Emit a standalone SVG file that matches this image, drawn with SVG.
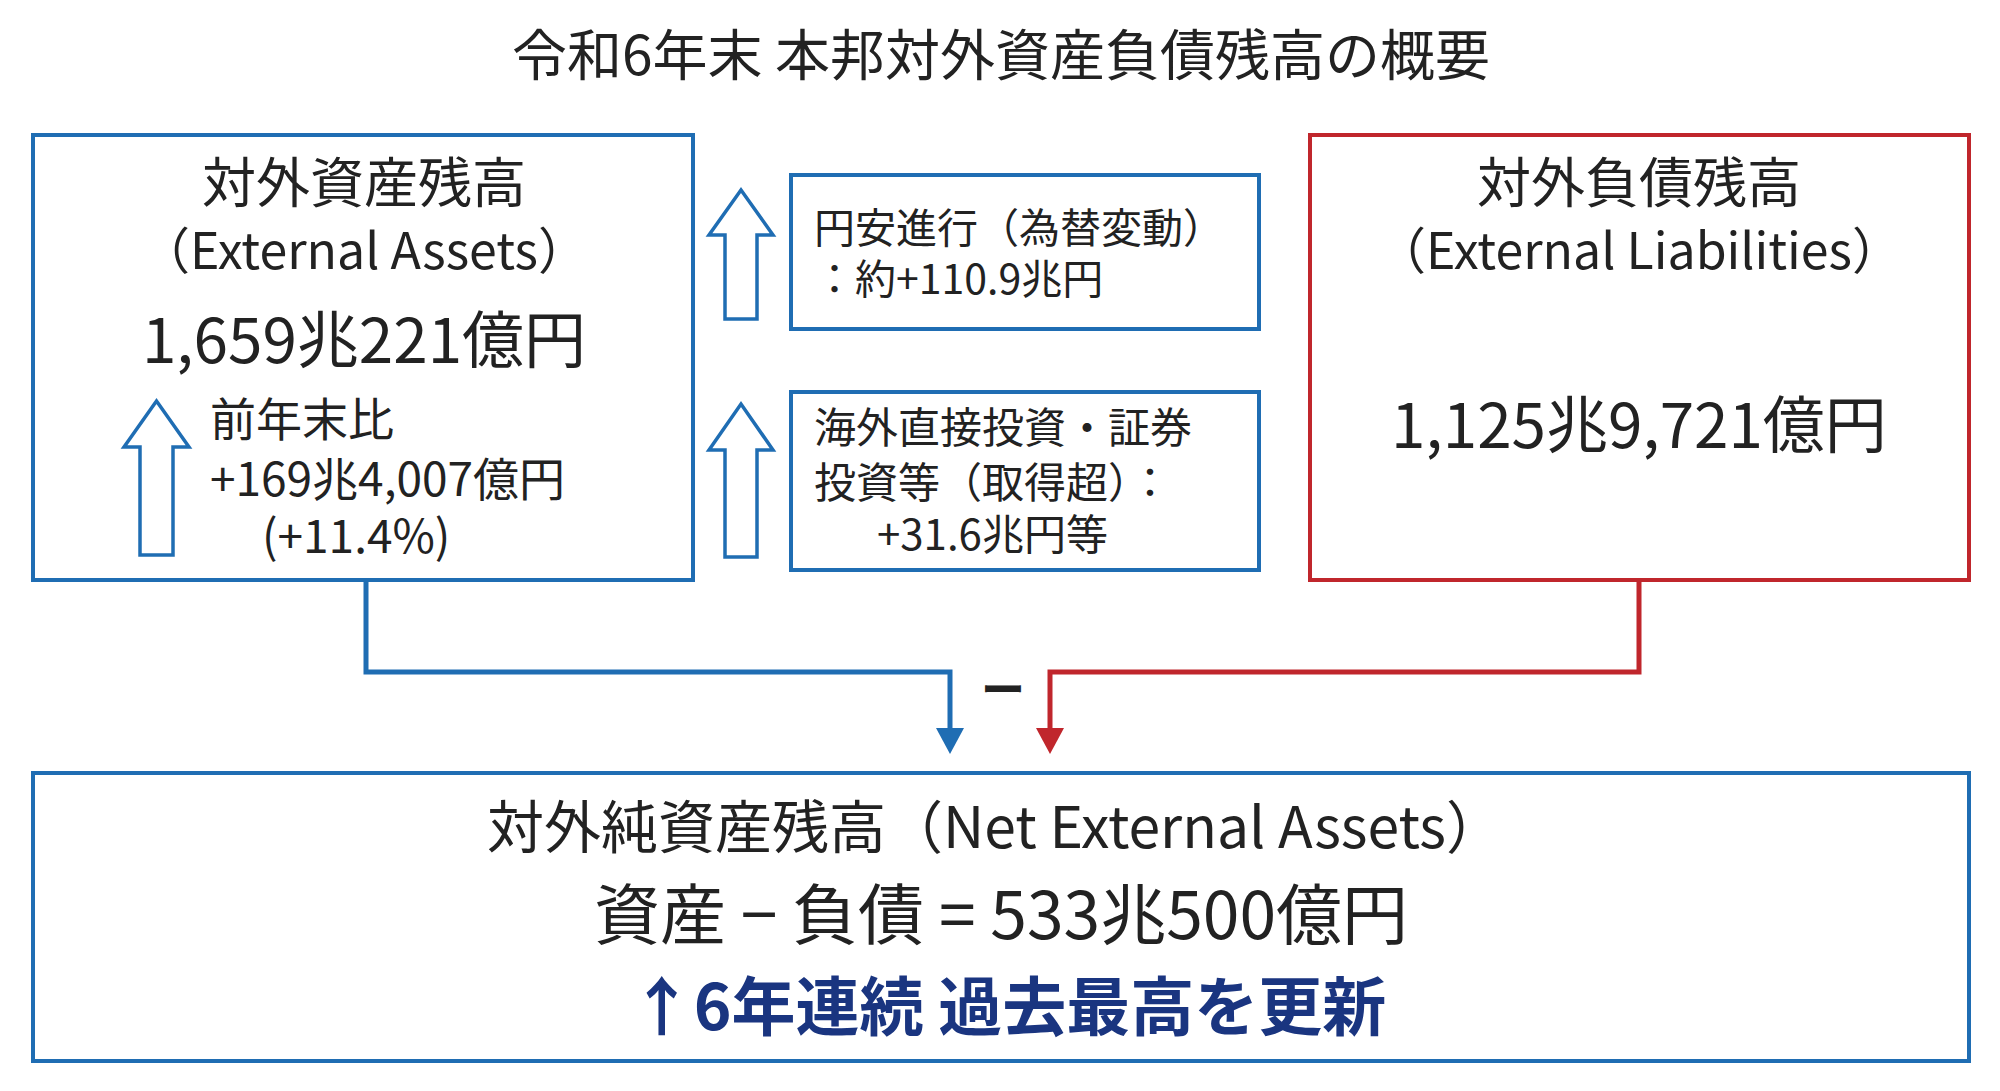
<svg xmlns="http://www.w3.org/2000/svg" width="2000" height="1091" viewBox="0 0 2000 1091">
<style>
text{font-family:"Noto Sans CJK JP","Noto Sans",sans-serif;fill:#222}
.b{fill:#fff;stroke:#1f6db3;stroke-width:4}
.r{fill:#fff;stroke:#c0262c;stroke-width:4}
.ha{fill:#fff;stroke:#1f6db3;stroke-width:3.5}
.m{text-anchor:middle}
</style>
<rect width="2000" height="1091" fill="#fff"/>
<text x="1001" y="75" class="m" font-size="55">令和6年末 本邦対外資産負債残高の概要</text>
<g id="connectors">
<polyline points="366,582 366,672 950,672 950,730" fill="none" stroke="#1f6db3" stroke-width="5"/>
<path d="M936,728 L964,728 L950,754z" fill="#1f6db3"/>
<polyline points="1639,582 1639,672 1050,672 1050,730" fill="none" stroke="#c0262c" stroke-width="5"/>
<path d="M1036,728 L1064,728 L1050,754z" fill="#c0262c"/>
<text x="1003" y="706" class="m" font-size="44" font-weight="bold">ー</text>
</g>
<g id="assets">
<rect class="b" x="33" y="135" width="660" height="445"/>
<text x="364" y="203" class="m" font-size="54">対外資産残高</text>
<text x="364" y="269" class="m" font-size="50">（External Assets）</text>
<text x="364" y="363" class="m" font-size="62">1,659兆221億円</text>
<path class="ha" d="M140,555 L140,447 L124,447 L156.5,401 L189,447 L173,447 L173,555z"/>
<text x="210" y="436" font-size="46">前年末比</text>
<text x="210" y="496" font-size="46">+169兆4,007億円</text>
<text x="262" y="553" font-size="46">(+11.4%)</text>
</g>
<g id="fx">
<path class="ha" d="M725,319 L725,235 L709,235 L741,190 L773,235 L757,235 L757,319z"/>
<rect class="b" x="791" y="175" width="468" height="154"/>
<text x="814" y="243" font-size="41">円安進行（為替変動）</text>
<text x="814" y="294" font-size="41">：約+110.9兆円</text>
</g>
<g id="invest">
<path class="ha" d="M725,557 L725,450 L709,450 L741,404 L773,450 L757,450 L757,557z"/>
<rect class="b" x="791" y="392" width="468" height="178"/>
<text x="814" y="443" font-size="42">海外直接投資・証券</text>
<text x="814" y="498" font-size="42">投資等（取得超）：</text>
<text x="877" y="550" font-size="42">+31.6兆円等</text>
</g>
<g id="liabilities">
<rect class="r" x="1310" y="135" width="659" height="445"/>
<text x="1639" y="203" class="m" font-size="54">対外負債残高</text>
<text x="1639" y="269" class="m" font-size="50">（External Liabilities）</text>
<text x="1639" y="448" class="m" font-size="62">1,125兆9,721億円</text>
</g>
<g id="net">
<rect class="b" x="33" y="773" width="1936" height="288"/>
<text x="995" y="848" class="m" font-size="57">対外純資産残高（Net External Assets）</text>
<text x="1001" y="939" class="m" font-size="66">資産 − 負債 = 533兆500億円</text>
<text x="1008" y="1030" class="m" font-size="64" font-weight="bold" style="fill:#1a3580">↑6年連続 過去最高を更新</text>
</g>
</svg>
